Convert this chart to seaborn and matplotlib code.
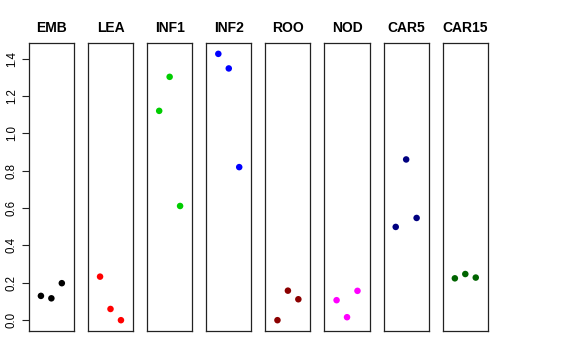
import numpy as np
import pandas as pd
import matplotlib
matplotlib.use("Agg")
import matplotlib.pyplot as plt
import seaborn as sns

# values, three replicates per tissue
tissues = ["EMB", "LEA", "INF1", "INF2", "ROO", "NOD", "CAR5", "CAR15"]
emb = [0.130, 0.117, 0.198]
lea = [0.233, 0.060, 0.000]
inf1 = [1.120, 1.302, 0.611]
inf2 = [1.425, 1.347, 0.819]
roo = [0.000, 0.158, 0.112]
nod = [0.107, 0.016, 0.157]
car5 = [0.499, 0.860, 0.547]
car15 = [0.224, 0.247, 0.228]
colors = ["black", "red", "#00CD00", "blue", "#8B0000", "magenta", "#000080", "#006400"]
yticks = [0.0, 0.2, 0.4, 0.6, 0.8, 1.0, 1.2, 1.4]

series = [emb, lea, inf1, inf2, roo, nod, car5, car15]
df = pd.DataFrame({
    "tissue": np.repeat(tissues, 3),
    "rep": np.tile([1, 2, 3], len(tissues)),
    "value": np.concatenate(series),
})

sns.set_style("white")
plt.rcParams["font.family"] = ["Liberation Sans", "DejaVu Sans"]
plt.rcParams["text.color"] = "black"
plt.rcParams["ytick.color"] = "black"

fig, axes = plt.subplots(1, len(tissues), figsize=(5.76, 3.6), dpi=100, sharey=True)
fig.subplots_adjust(left=0.05, right=0.847, bottom=0.081, top=0.88, wspace=0.31)

lo, hi = df["value"].min(), df["value"].max()
pad = 0.04 * (hi - lo)

for ax, name, col in zip(axes, tissues, colors):
    sub = df[df["tissue"] == name]
    sns.scatterplot(data=sub, x="rep", y="value", color=col, s=22,
                    edgecolor="none", ax=ax, legend=False)
    ax.set_xlim(-0.16, 4.16)
    ax.set_ylim(lo - pad, hi + pad)
    ax.set_xticks([])
    ax.set_xlabel("")
    ax.set_ylabel("")
    ax.set_title(name, fontsize=10, fontweight="bold", pad=8, color="black")
    for sp in ax.spines.values():
        sp.set_visible(True)
        sp.set_color("#222222")
        sp.set_linewidth(0.9)

axes[0].set_yticks(yticks)
axes[0].set_yticklabels([f"{v:.1f}" for v in yticks], rotation=90, va="center", fontsize=8.3)
axes[0].tick_params(axis="y", left=True, length=5, width=0.8, pad=3,
                    color="#222222", labelcolor="black")
for ax in axes[1:]:
    ax.tick_params(axis="y", left=False, labelleft=False)

fig.savefig("out.png", dpi=100)
